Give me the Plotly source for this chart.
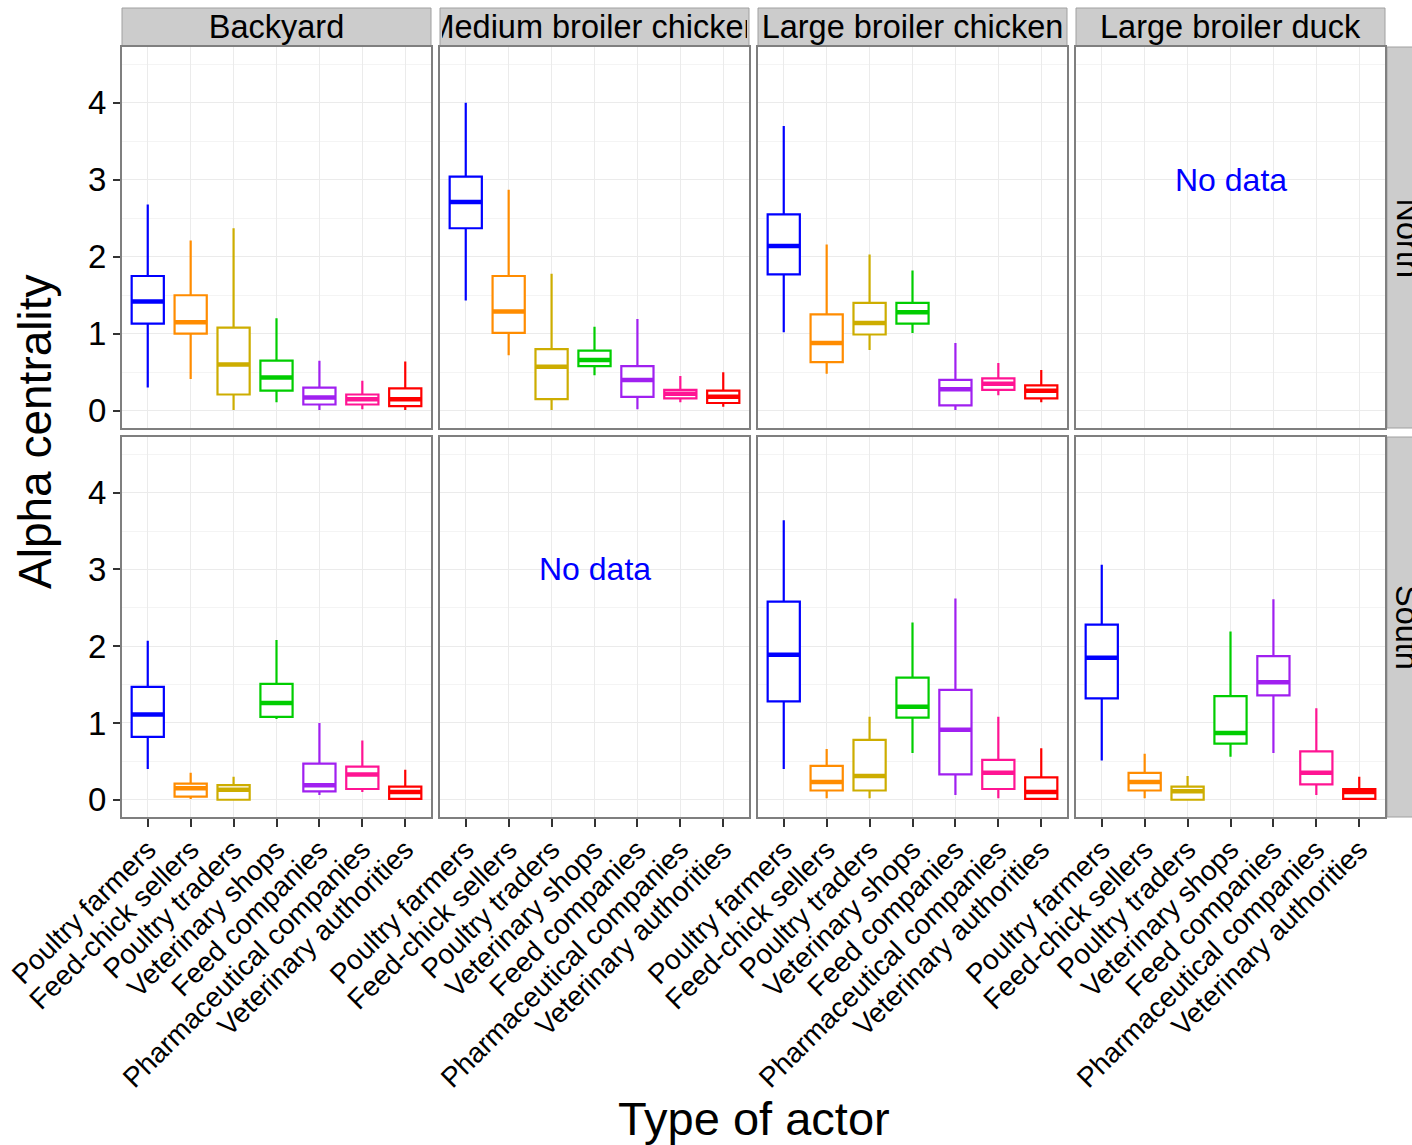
import plotly.graph_objects as go

W, H = 1412, 1145
FONT = "Liberation Sans, Arial, Helvetica, sans-serif"

categories = ["Poultry farmers", "Feed-chick sellers", "Poultry traders", "Veterinary shops",
              "Feed companies", "Pharmaceutical companies", "Veterinary authorities"]
systems = ["Backyard", "Medium broiler chicken", "Large broiler chicken", "Large broiler duck"]
regions = ["North", "South"]
colors = ["#0000FF", "#FF8C00", "#CDAD00", "#00CD00", "#A020F0", "#FF1493", "#FF0000"]

# ---- North ----
north_backyard_low = [0.30, 0.41, 0.01, 0.11, 0.01, 0.02, 0.01]
north_backyard_q1 = [1.13, 1.00, 0.21, 0.26, 0.08, 0.08, 0.06]
north_backyard_med = [1.42, 1.15, 0.60, 0.43, 0.17, 0.15, 0.15]
north_backyard_q3 = [1.75, 1.50, 1.08, 0.65, 0.30, 0.21, 0.29]
north_backyard_high = [2.68, 2.21, 2.37, 1.20, 0.65, 0.39, 0.64]

north_medium_low = [1.43, 0.72, 0.01, 0.46, 0.02, 0.11, 0.05]
north_medium_q1 = [2.37, 1.01, 0.15, 0.58, 0.18, 0.16, 0.10]
north_medium_med = [2.71, 1.29, 0.57, 0.66, 0.40, 0.22, 0.18]
north_medium_q3 = [3.04, 1.75, 0.80, 0.78, 0.58, 0.27, 0.26]
north_medium_high = [4.00, 2.87, 1.78, 1.09, 1.19, 0.45, 0.50]

north_large_chicken_low = [1.02, 0.48, 0.79, 1.01, 0.01, 0.20, 0.11]
north_large_chicken_q1 = [1.77, 0.63, 0.99, 1.13, 0.07, 0.27, 0.16]
north_large_chicken_med = [2.14, 0.88, 1.14, 1.28, 0.28, 0.35, 0.26]
north_large_chicken_q3 = [2.55, 1.25, 1.40, 1.40, 0.40, 0.42, 0.33]
north_large_chicken_high = [3.70, 2.16, 2.03, 1.82, 0.88, 0.62, 0.53]

# ---- South ----
south_backyard_low = [0.40, 0.01, 0.00, 1.05, 0.06, 0.10, 0.00]
south_backyard_q1 = [0.82, 0.04, 0.00, 1.08, 0.11, 0.14, 0.01]
south_backyard_med = [1.11, 0.15, 0.13, 1.26, 0.19, 0.33, 0.10]
south_backyard_q3 = [1.47, 0.21, 0.19, 1.51, 0.47, 0.43, 0.17]
south_backyard_high = [2.07, 0.35, 0.30, 2.08, 1.00, 0.77, 0.39]

south_large_chicken_low = [0.40, 0.02, 0.02, 0.61, 0.06, 0.02, 0.00]
south_large_chicken_q1 = [1.28, 0.12, 0.12, 1.07, 0.33, 0.14, 0.01]
south_large_chicken_med = [1.89, 0.23, 0.31, 1.21, 0.91, 0.35, 0.10]
south_large_chicken_q3 = [2.58, 0.44, 0.78, 1.59, 1.43, 0.52, 0.29]
south_large_chicken_high = [3.64, 0.66, 1.08, 2.31, 2.62, 1.08, 0.67]

south_duck_low = [0.51, 0.02, 0.00, 0.56, 0.61, 0.06, 0.00]
south_duck_q1 = [1.32, 0.12, 0.00, 0.73, 1.36, 0.20, 0.01]
south_duck_med = [1.85, 0.23, 0.11, 0.87, 1.53, 0.35, 0.10]
south_duck_q3 = [2.28, 0.35, 0.17, 1.35, 1.87, 0.63, 0.14]
south_duck_high = [3.06, 0.60, 0.31, 2.19, 2.61, 1.19, 0.30]

panels = {
    ("North", "Backyard"): (north_backyard_low, north_backyard_q1, north_backyard_med, north_backyard_q3, north_backyard_high),
    ("North", "Medium broiler chicken"): (north_medium_low, north_medium_q1, north_medium_med, north_medium_q3, north_medium_high),
    ("North", "Large broiler chicken"): (north_large_chicken_low, north_large_chicken_q1, north_large_chicken_med, north_large_chicken_q3, north_large_chicken_high),
    ("South", "Backyard"): (south_backyard_low, south_backyard_q1, south_backyard_med, south_backyard_q3, south_backyard_high),
    ("South", "Large broiler chicken"): (south_large_chicken_low, south_large_chicken_q1, south_large_chicken_med, south_large_chicken_q3, south_large_chicken_high),
    ("South", "Large broiler duck"): (south_duck_low, south_duck_q1, south_duck_med, south_duck_q3, south_duck_high),
}

# ---- layout geometry (pixels) ----
col_px = [(122, 431), (440, 749), (758, 1067), (1076, 1385)]
row_px = [(47, 428), (437, 817)]
strip_top = (8, 46)
strip_right_x0 = 1387
BOX_W = 0.75


def px_x(v):
    return v / W


def px_y(v):
    return 1 - v / H


fig = go.Figure()
layout = dict(
    width=W, height=H,
    margin=dict(l=0, r=0, t=0, b=0),
    paper_bgcolor="white", plot_bgcolor="white",
    showlegend=False,
    font=dict(family=FONT, color="black"),
    boxmode="overlay",
)
shapes = []
annotations = []

for r, region in enumerate(regions):
    for c, system in enumerate(systems):
        idx = r * 4 + c + 1
        xa = f"x{idx}"
        ya = f"y{idx}"
        bottom = (r == len(regions) - 1)
        left = (c == 0)
        layout[f"xaxis{idx}"] = dict(
            domain=[px_x(col_px[c][0]), px_x(col_px[c][1])],
            anchor=ya, range=[0.4, 7.6],
            tickvals=list(range(1, len(categories) + 1)),
            ticktext=categories,
            showticklabels=bottom,
            ticks="outside" if bottom else "", ticklen=8, tickwidth=1.5, tickcolor="#333333",
            tickangle=-45, tickfont=dict(size=28, color="black", family=FONT),
            ticklabelstandoff=-5,
            showgrid=True, gridcolor="#EBEBEB", gridwidth=1,
            zeroline=False, showline=True, mirror=True, linecolor="#7F7F7F", linewidth=2,
            automargin=False, fixedrange=True,
        )
        layout[f"yaxis{idx}"] = dict(
            domain=[px_y(row_px[r][1]), px_y(row_px[r][0])],
            anchor=xa, range=[-0.225, 4.725],
            tick0=0, dtick=1,
            showticklabels=left,
            ticks="outside" if left else "", ticklen=7, tickwidth=1.5, tickcolor="#333333",
            tickfont=dict(size=33, color="black", family=FONT),
            showgrid=True, gridcolor="#EBEBEB", gridwidth=1,
            minor=dict(dtick=0.5, tick0=0, showgrid=True, gridcolor="#F4F4F4", gridwidth=1),
            zeroline=False, showline=True, mirror=True, linecolor="#7F7F7F", linewidth=2,
            automargin=False, fixedrange=True,
        )
        key = (region, system)
        if key in panels:
            low, q1, med, q3, high = panels[key]
            for i, cat in enumerate(categories):
                pos = i + 1
                fig.add_trace(go.Box(
                    x=[pos], q1=[q1[i]], median=[med[i]], q3=[q3[i]],
                    lowerfence=[low[i]], upperfence=[high[i]],
                    width=BOX_W, whiskerwidth=0, boxpoints=False,
                    line=dict(color=colors[i], width=2.2), fillcolor="white",
                    xaxis=xa, yaxis=ya, name=cat, hoverinfo="skip",
                ))
                fig.add_trace(go.Scatter(
                    x=[pos - BOX_W / 2, pos + BOX_W / 2], y=[med[i], med[i]],
                    mode="lines", line=dict(color=colors[i], width=4.5),
                    xaxis=xa, yaxis=ya, hoverinfo="skip",
                ))
        else:
            annotations.append(dict(
                x=4, y=3, xref=xa, yref=ya, text="No data", showarrow=False,
                font=dict(size=32, color="#0000FF", family=FONT),
            ))

# top strips
for c, system in enumerate(systems):
    x0, x1 = col_px[c]
    shapes.append(dict(type="rect", xref="paper", yref="paper",
                       x0=px_x(x0), x1=px_x(x1), y0=px_y(strip_top[1]), y1=px_y(strip_top[0]),
                       fillcolor="#CCCCCC", line=dict(color="#A0A0A0", width=1), layer="below"))
    annotations.append(dict(
        x=px_x((x0 + x1) / 2), y=px_y((strip_top[0] + strip_top[1]) / 2),
        xref="paper", yref="paper", xanchor="center", yanchor="middle",
        text=system, showarrow=False, width=x1 - x0 - 4, align="center",
        font=dict(size=32.5, color="black", family=FONT),
    ))

# right strips
for r, region in enumerate(regions):
    y0, y1 = row_px[r]
    shapes.append(dict(type="rect", xref="paper", yref="paper",
                       x0=px_x(strip_right_x0), x1=1.03, y0=px_y(y1), y1=px_y(y0),
                       fillcolor="#CCCCCC", line=dict(color="#A0A0A0", width=1), layer="below"))
    annotations.append(dict(
        x=px_x(1407), y=px_y((y0 + y1) / 2), xref="paper", yref="paper",
        xanchor="center", yanchor="middle", textangle=90,
        text=region, showarrow=False,
        font=dict(size=32.5, color="black", family=FONT),
    ))

# axis titles
annotations.append(dict(
    x=px_x(35), y=px_y((row_px[0][0] + row_px[1][1]) / 2), xref="paper", yref="paper",
    xanchor="center", yanchor="middle", textangle=-90,
    text="Alpha centrality", showarrow=False, font=dict(size=46, color="black", family=FONT),
))
annotations.append(dict(
    x=px_x((col_px[0][0] + col_px[3][1]) / 2), y=px_y(1118), xref="paper", yref="paper",
    xanchor="center", yanchor="middle",
    text="Type of actor", showarrow=False, font=dict(size=47, color="black", family=FONT),
))

layout["shapes"] = shapes
layout["annotations"] = annotations
fig.update_layout(**layout)

fig.write_html("out.html",
               config={"displayModeBar": False},
               post_script="document.body.style.margin='0';document.body.style.overflow='hidden';")
